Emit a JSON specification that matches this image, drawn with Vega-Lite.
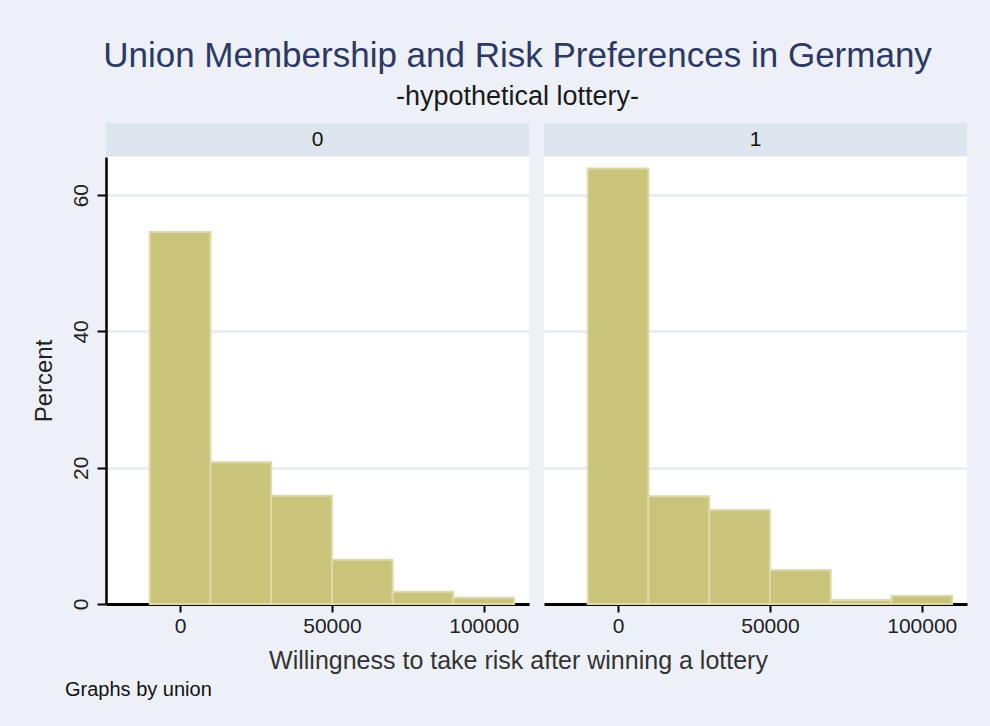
{
  "$schema": "https://vega.github.io/schema/vega-lite/v6.json",
  "background": "#edf1f7",
  "padding": {"left": 32, "top": 39, "right": 24, "bottom": 26},
  "config": {
    "font": "Liberation Sans",
    "view": {"stroke": null},
    "axis": {"labelFont": "Liberation Sans", "titleFont": "Liberation Sans"}
  },
  "title": {
    "text": "Union Membership and Risk Preferences in Germany",
    "subtitle": "-hypothetical lottery-",
    "fontSize": 35,
    "fontWeight": "normal",
    "color": "#2c3866",
    "subtitleFontSize": 27,
    "subtitleColor": "#1a1a1a",
    "subtitlePadding": 10,
    "anchor": "middle",
    "offset": 13,
    "dx": 18
  },
  "datasets": {
    "hist": [
      {"union": "0", "bin_start": -10000, "bin_end": 10000, "percent": 54.6},
      {"union": "0", "bin_start": 10000, "bin_end": 30000, "percent": 20.8},
      {"union": "0", "bin_start": 30000, "bin_end": 50000, "percent": 15.9},
      {"union": "0", "bin_start": 50000, "bin_end": 70000, "percent": 6.5},
      {"union": "0", "bin_start": 70000, "bin_end": 90000, "percent": 1.8},
      {"union": "0", "bin_start": 90000, "bin_end": 110000, "percent": 0.9},
      {"union": "1", "bin_start": -10000, "bin_end": 10000, "percent": 63.9},
      {"union": "1", "bin_start": 10000, "bin_end": 30000, "percent": 15.8},
      {"union": "1", "bin_start": 30000, "bin_end": 50000, "percent": 13.8},
      {"union": "1", "bin_start": 50000, "bin_end": 70000, "percent": 5.0},
      {"union": "1", "bin_start": 70000, "bin_end": 90000, "percent": 0.6},
      {"union": "1", "bin_start": 90000, "bin_end": 110000, "percent": 1.2}
    ],
    "panels": [{"union": "0"}, {"union": "1"}]
  },
  "vconcat": [
    {
      "title": {
        "text": "Graphs by union",
        "orient": "bottom",
        "anchor": "start",
        "fontSize": 20,
        "fontWeight": "normal",
        "color": "#111111",
        "offset": 6,
        "dx": 33
      },
      "vconcat": [
        {
          "title": {
            "text": "Willingness to take risk after winning a lottery",
            "orient": "bottom",
            "anchor": "middle",
            "fontSize": 25,
            "fontWeight": "normal",
            "color": "#333333",
            "offset": 13,
            "dx": 19
          },
          "spacing": 15,
          "hconcat": [
            {
              "spacing": 1,
              "vconcat": [
                {
                  "width": 423,
                  "height": 33,
                  "data": {"name": "panels"},
                  "transform": [{"filter": "datum.union == '0'"}],
                  "view": {"fill": "#dde5ef", "stroke": null},
                  "mark": {"type": "text", "fontSize": 21, "color": "#111111"},
                  "encoding": {"text": {"field": "union"}}
                },
                {
                  "width": 423,
                  "height": 447,
                  "data": {"name": "hist"},
                  "transform": [{"filter": "datum.union == '0'"}],
                  "view": {"fill": "#ffffff", "stroke": null},
                  "mark": {"type": "bar", "fill": "#cac37a", "stroke": "#dedaa6", "strokeWidth": 2},
                  "encoding": {
                    "x": {
                      "field": "bin_start",
                      "type": "quantitative",
                      "scale": {"domain": [-24400, 114900], "nice": false, "zero": false},
                      "axis": {
                        "title": null,
                        "values": [0, 50000, 100000],
                        "format": "d",
                        "grid": false,
                        "domainColor": "#000000",
                        "domainWidth": 3,
                        "tickColor": "#000000",
                        "tickWidth": 2,
                        "tickSize": 8,
                        "labelFontSize": 21,
                        "labelColor": "#222222",
                        "labelPadding": 3
                      }
                    },
                    "x2": {"field": "bin_end"},
                    "y": {
                      "field": "percent",
                      "type": "quantitative",
                      "scale": {"domain": [0, 65.6], "nice": false},
                      "axis": {
                        "title": "Percent",
                        "titleFontSize": 24,
                        "titleFontWeight": "normal",
                        "titleColor": "#222222",
                        "titlePadding": 14,
                        "values": [0, 20, 40, 60],
                        "grid": true,
                        "gridColor": "#e5ebf3",
                        "gridWidth": 2.5,
                        "domainColor": "#000000",
                        "domainWidth": 2.5,
                        "tickColor": "#000000",
                        "tickWidth": 2,
                        "tickSize": 9,
                        "labelAngle": -90,
                        "labelAlign": "center",
                        "labelBaseline": "bottom",
                        "labelFontSize": 21,
                        "labelColor": "#222222",
                        "labelPadding": 6
                      }
                    },
                    "y2": {"datum": 0}
                  }
                }
              ]
            },
            {
              "spacing": 1,
              "vconcat": [
                {
                  "width": 423,
                  "height": 33,
                  "data": {"name": "panels"},
                  "transform": [{"filter": "datum.union == '1'"}],
                  "view": {"fill": "#dde5ef", "stroke": null},
                  "mark": {"type": "text", "fontSize": 21, "color": "#111111"},
                  "encoding": {"text": {"field": "union"}}
                },
                {
                  "width": 423,
                  "height": 447,
                  "data": {"name": "hist"},
                  "transform": [{"filter": "datum.union == '1'"}],
                  "view": {"fill": "#ffffff", "stroke": null},
                  "mark": {"type": "bar", "fill": "#cac37a", "stroke": "#dedaa6", "strokeWidth": 2},
                  "encoding": {
                    "x": {
                      "field": "bin_start",
                      "type": "quantitative",
                      "scale": {"domain": [-24400, 114900], "nice": false, "zero": false},
                      "axis": {
                        "title": null,
                        "values": [0, 50000, 100000],
                        "format": "d",
                        "grid": false,
                        "domainColor": "#000000",
                        "domainWidth": 3,
                        "tickColor": "#000000",
                        "tickWidth": 2,
                        "tickSize": 8,
                        "labelFontSize": 21,
                        "labelColor": "#222222",
                        "labelPadding": 3
                      }
                    },
                    "x2": {"field": "bin_end"},
                    "y": {
                      "field": "percent",
                      "type": "quantitative",
                      "scale": {"domain": [0, 65.6], "nice": false},
                      "axis": {
                        "title": null,
                        "values": [0, 20, 40, 60],
                        "grid": true,
                        "gridColor": "#e5ebf3",
                        "gridWidth": 2.5,
                        "domain": false,
                        "ticks": false,
                        "labels": false
                      }
                    },
                    "y2": {"datum": 0}
                  }
                }
              ]
            }
          ]
        }
      ]
    }
  ]
}
